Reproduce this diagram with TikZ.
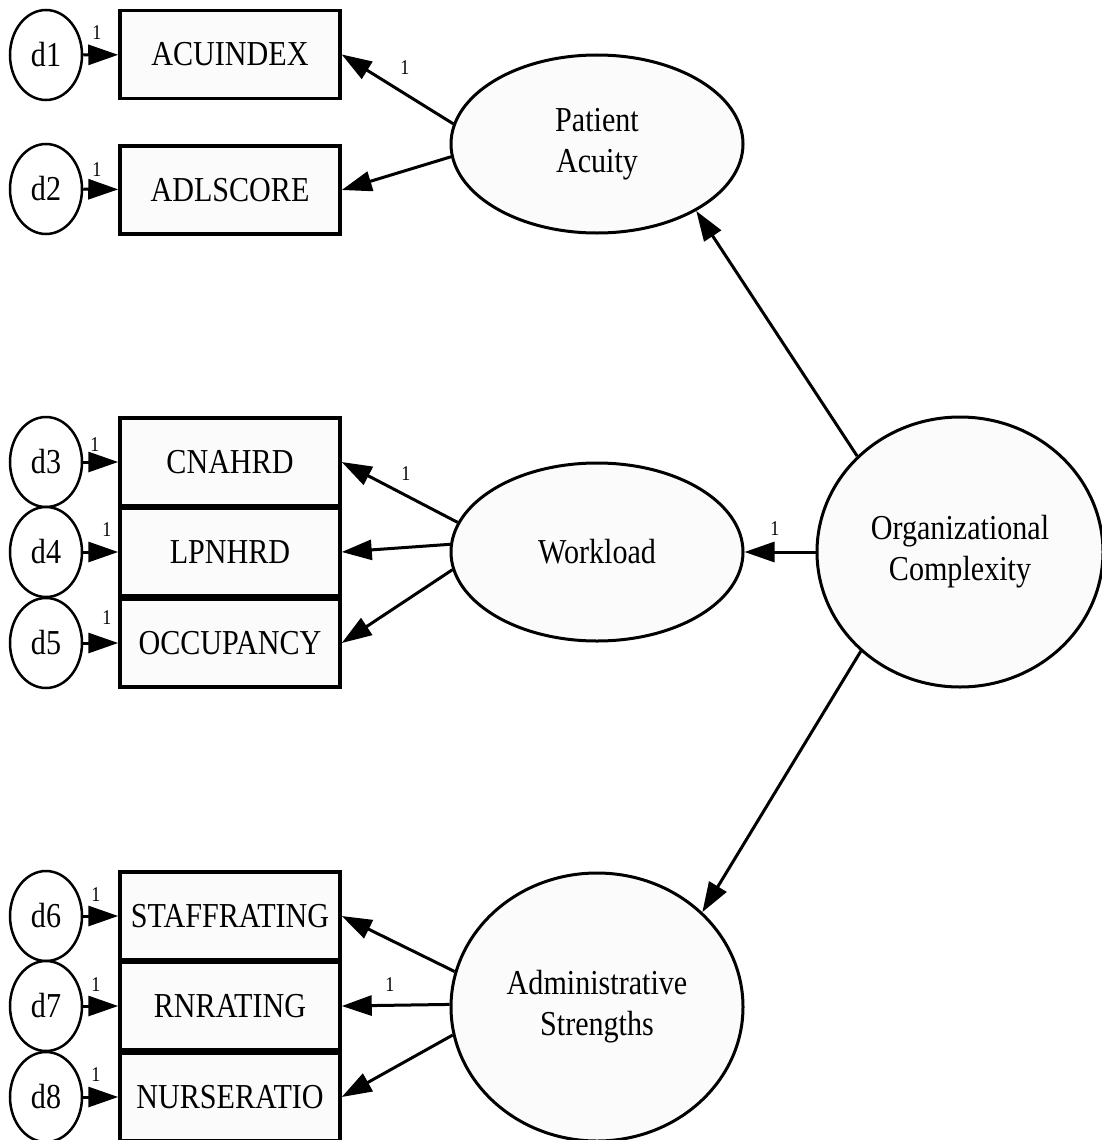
\documentclass[tikz,border=0pt]{standalone}
\usepackage{fontspec}
\setmainfont{Liberation Serif}[FakeStretch=0.86]
\usetikzlibrary{shapes.geometric,arrows.meta}
\definecolor{nodefill}{RGB}{251,251,251}
\begin{document}
\begin{tikzpicture}[x=1pt,y=-1pt,
  every node/.style={font=\fontsize{35}{41}\selectfont},
  latent/.style={ellipse, draw, line width=3pt, fill=nodefill, inner sep=0pt, align=center},
  observed/.style={rectangle, draw, line width=3.5pt, fill=nodefill,
                   minimum width=220pt, minimum height=88pt, inner sep=0pt},
  errterm/.style={ellipse, draw, line width=2.5pt, fill=white,
                  minimum width=72pt, minimum height=90pt, inner sep=0pt},
  loading/.style={line width=3pt, -{Triangle[length=30pt,width=20pt]}},
  one/.style={font=\fontsize{21}{21}\selectfont, inner sep=0pt}
]
\useasboundingbox (0,0) rectangle (1102,1140);

% observed indicators
\node[observed] (b1) at (230,54.5) {ACUINDEX};
\node[observed] (b2) at (230,190)  {ADLSCORE};
\node[observed] (b3) at (230,462)  {CNAHRD};
\node[observed] (b4) at (230,552)  {LPNHRD};
\node[observed] (b5) at (230,643)  {OCCUPANCY};
\node[observed] (b6) at (230,916)  {STAFFRATING};
\node[observed] (b7) at (230,1006) {RNRATING};
\node[observed] (b8) at (230,1097) {NURSERATIO};

% error terms
\node[errterm] (d1) at (46,55)   {d1};
\node[errterm] (d2) at (46,189)  {d2};
\node[errterm] (d3) at (46,462)  {d3};
\node[errterm] (d4) at (46,552)  {d4};
\node[errterm] (d5) at (46,643)  {d5};
\node[errterm] (d6) at (46,916)  {d6};
\node[errterm] (d7) at (46,1006) {d7};
\node[errterm] (d8) at (46,1097) {d8};

% latent factors
\node[latent, minimum width=292pt, minimum height=178pt] (pa) at (597,144)  {Patient\\Acuity};
\node[latent, minimum width=292pt, minimum height=178pt] (wl) at (597,552)  {Workload};
\node[latent, minimum width=292pt, minimum height=268pt] (as) at (597,1007) {Administrative\\Strengths};
\node[latent, minimum width=286pt, minimum height=270pt] (oc) at (960,552)  {Organizational\\Complexity};

% error paths
\foreach \i in {1,...,8} {
  \draw[loading] (d\i) -- (b\i);
}
\node[one] (e1) at (97,33)   {1};
\node[one] (e2) at (97,170)  {1};
\node[one] (e3) at (95,445)  {1};
\node[one] (e4) at (107,530) {1};
\node[one] (e5) at (107,618) {1};
\node[one] (e6) at (96,895)  {1};
\node[one] (e7) at (96,985)  {1};
\node[one] (e8) at (96,1075) {1};

% factor loadings
\draw[loading] (pa.172) -- (b1.east);
\draw[loading] (pa.185) -- (b2.east);
\draw[loading] (wl.168) -- (b3.east);
\draw[loading] (wl.177) -- (b4.east);
\draw[loading] (wl.187) -- (b5.east);
\draw[loading] (as.166) -- (b6.east);
\draw[loading] (as.179) -- (b7.east);
\draw[loading] (as.191) -- (b8.east);

% second-order paths
\draw[loading] (oc.137.6) -- (pa.326);
\draw[loading] (oc.west) -- (wl.east);
\draw[loading] (oc.225) -- (as.42.7);

% fixed loadings
\node[one] (l1) at (405,68)  {1};
\node[one] (l2) at (406,474) {1};
\node[one] (l3) at (775,529) {1};
\node[one] (l4) at (390,985) {1};
\end{tikzpicture}
\end{document}
